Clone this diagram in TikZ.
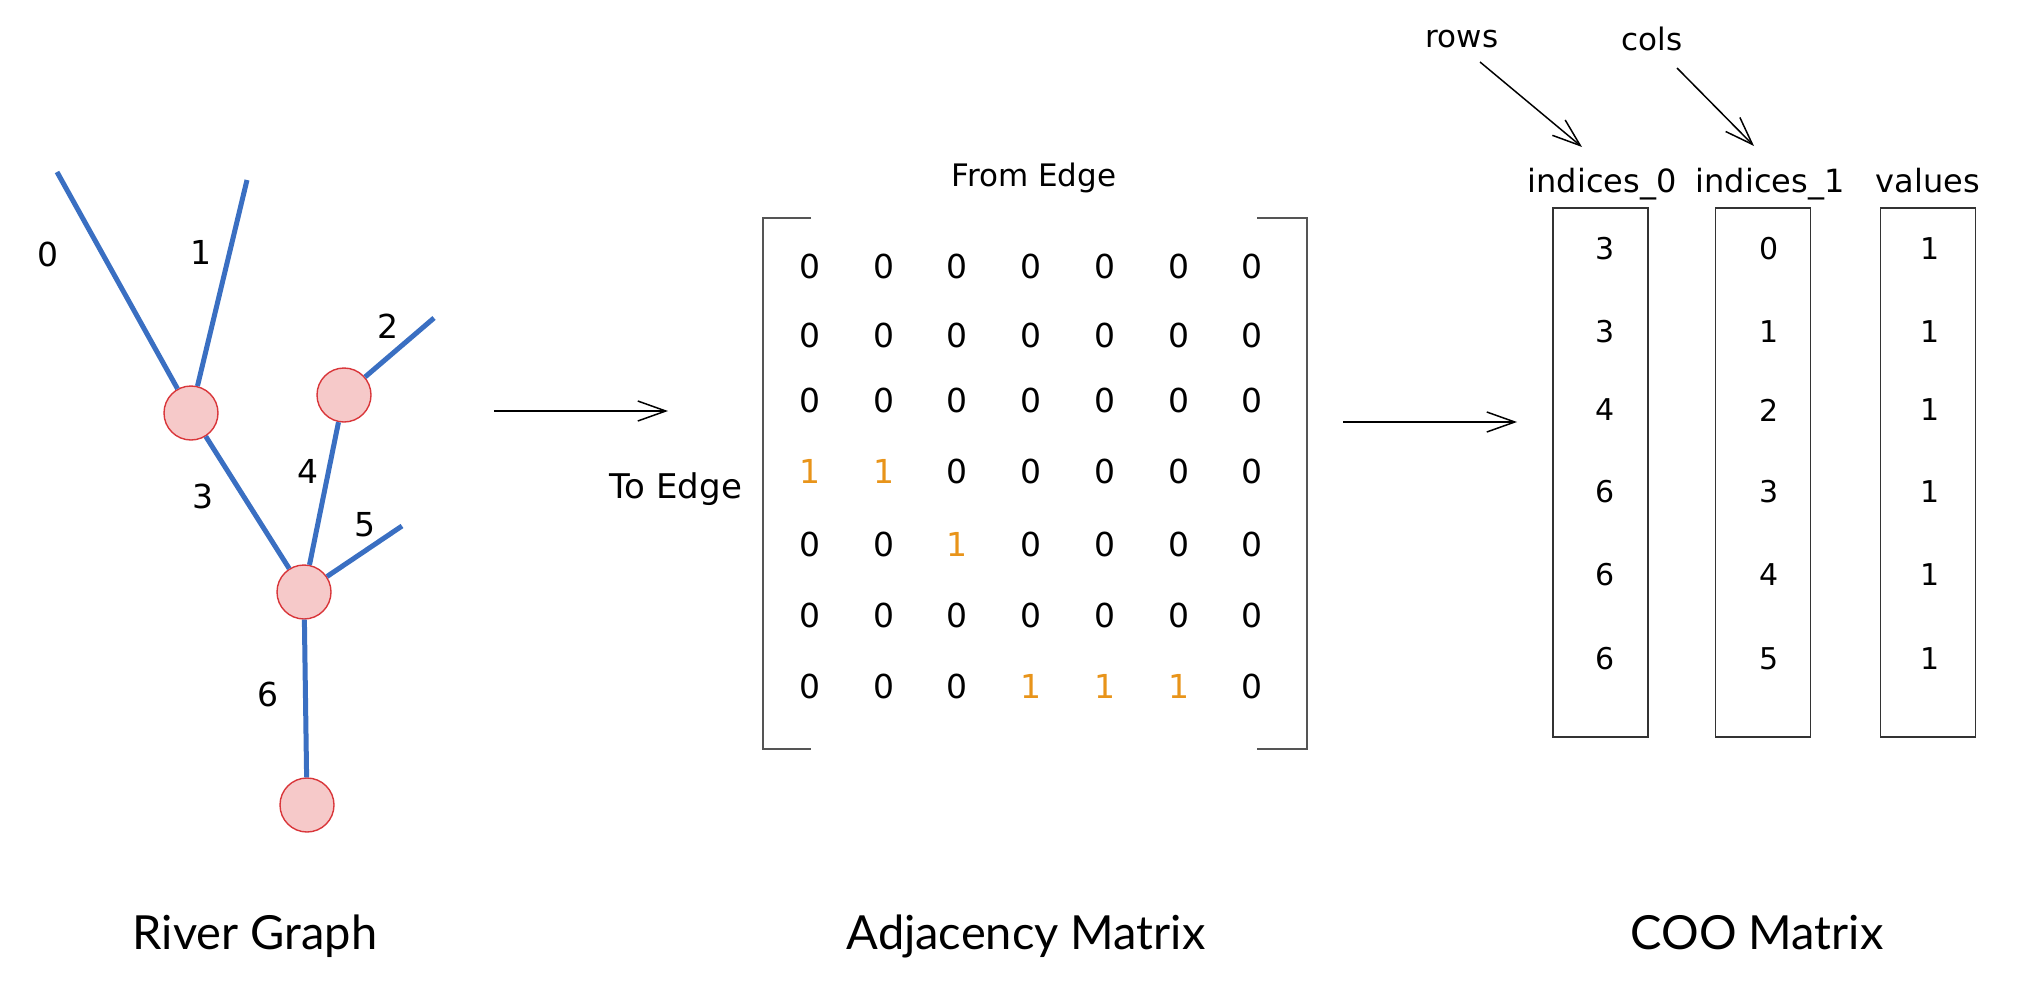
\documentclass[tikz,border=0pt]{standalone}
\usepackage{fontspec}
\setmainfont{DejaVu Sans}
\newfontfamily\titlefont{Lato}
\usetikzlibrary{arrows.meta}
\definecolor{riverblue}{HTML}{3A6FC2}
\definecolor{nodefill}{HTML}{F6C9C9}
\definecolor{nodeline}{HTML}{D9363A}
\definecolor{onecol}{HTML}{E8941A}
\definecolor{brk}{HTML}{555555}
\begin{document}
\begin{tikzpicture}[x=0.5pt,y=-0.5pt,
  junction/.style={circle,draw=nodeline,fill=nodefill,line width=0.7pt,minimum size=27pt,inner sep=0pt},
  river/.style={riverblue,line width=2.5pt},
  elabel/.style={font=\fontsize{16.5}{18}\selectfont,inner sep=0pt},
  mval/.style={font=\fontsize{16.5}{18}\selectfont,inner sep=0pt},
  cval/.style={font=\fontsize{15}{17}\selectfont,inner sep=0pt},
  cell0/.style={text=black},
  cell1/.style={text=onecol},
  lbl/.style={font=\fontsize{15.5}{18}\selectfont,inner sep=0pt,anchor=base},
  hdr/.style={font=\fontsize{16}{18}\selectfont,inner sep=0pt,anchor=base},
  ttl/.style={font=\titlefont\fontsize{23.5}{26}\selectfont,inner sep=0pt,anchor=base},
  flow/.style={black,line width=0.75pt,-{Straight Barb[length=14pt,width=10pt,line width=0.75pt]}},
  brkline/.style={brk,line width=1pt},
  coobox/.style={draw=black!80,line width=0.75pt,minimum width=47.5pt,minimum height=264.5pt,inner sep=0pt}
]
\useasboundingbox (0,0) rectangle (2038,1006);

% ---------------- River graph ----------------
\node[junction] (A) at (191,413) {};
\node[junction] (B) at (344,395) {};
\node[junction] (C) at (304,592) {};
\node[junction] (D) at (307,805) {};
\coordinate (e0) at (57,172);
\coordinate (e1) at (247,180);
\coordinate (e2) at (434,318);
\coordinate (e5) at (402,526);
\draw[river] (A) -- (e0);
\draw[river] (A) -- (e1);
\draw[river] (B) -- (e2);
\draw[river] (A) -- (C);
\draw[river] (B) -- (C);
\draw[river] (C) -- (e5);
\draw[river] (C) -- (D);
\node[elabel] (l0) at (48,254) {0};
\node[elabel] (l1) at (201,252) {1};
\node[elabel] (l2) at (388,326) {2};
\node[elabel] (l3) at (203,496) {3};
\node[elabel] (l4) at (308,471) {4};
\node[elabel] (l5) at (365,525) {5};
\node[elabel] (l6) at (268,694) {6};

% ---------------- Arrows between panels ----------------
\coordinate (a1s) at (494,411);
\coordinate (a1e) at (668,411);
\draw[flow] (a1s) -- (a1e);
\coordinate (a2s) at (1343,422);
\coordinate (a2e) at (1517,422);
\draw[flow] (a2s) -- (a2e);

% ---------------- Adjacency matrix ----------------
\node[lbl] (from) at (1034,186) {From Edge};
\node[lbl,font=\fontsize{17}{19}\selectfont] (to) at (676,498) {To Edge};
\draw[brkline] (811,218) -- (763,218) -- (763,749) -- (811,749);
\draw[brkline] (1257,218) -- (1307,218) -- (1307,749) -- (1257,749);
\foreach \y/\vals [count=\r from 0] in {
  266/{0,0,0,0,0,0,0},
  335/{0,0,0,0,0,0,0},
  400/{0,0,0,0,0,0,0},
  471/{1,1,0,0,0,0,0},
  544/{0,0,1,0,0,0,0},
  615/{0,0,0,0,0,0,0},
  686/{0,0,0,1,1,1,0}} {
  \foreach \v [count=\c from 0] in \vals {
    \pgfmathsetmacro\xx{810+73.7*\c}
    \node[mval,cell\v] (m-\r-\c) at (\xx,\y) {\v};
  }
}

% ---------------- COO matrix ----------------
\node[lbl] (rows) at (1462,48) {rows};
\node[lbl] (cols) at (1652,51) {cols};
\coordinate (r1) at (1480,62);
\coordinate (r2) at (1582,147);
\coordinate (c1) at (1677,68);
\coordinate (c2) at (1754,146);
\draw[flow] (r1) -- (r2);
\draw[flow] (c1) -- (c2);
\node[hdr] (h0) at (1602,192) {indices\_0};
\node[hdr] (h1) at (1770,192) {indices\_1};
\node[hdr] (h2) at (1928,192) {values};
\node[coobox] (box0) at (1600.5,472.5) {};
\node[coobox] (box1) at (1763,472.5) {};
\node[coobox] (box2) at (1928,472.5) {};
\foreach \y/\a/\b/\cc [count=\r from 0] in {249/3/0/1, 332/3/1/1, 410/4/2/1, 492/6/3/1, 575/6/4/1, 659/6/5/1} {
  \node[cval] (i0-\r) at (1605,\y) {\a};
  \node[cval] (i1-\r) at (1769,\y) {\b};
  \node[cval] (v-\r) at (1930,\y) {\cc};
}

% ---------------- Titles ----------------
\node[ttl] (t1) at (255,949) {River Graph};
\node[ttl] (t2) at (1026,949) {Adjacency Matrix};
\node[ttl] (t3) at (1757,949) {COO Matrix};
\end{tikzpicture}
\end{document}
